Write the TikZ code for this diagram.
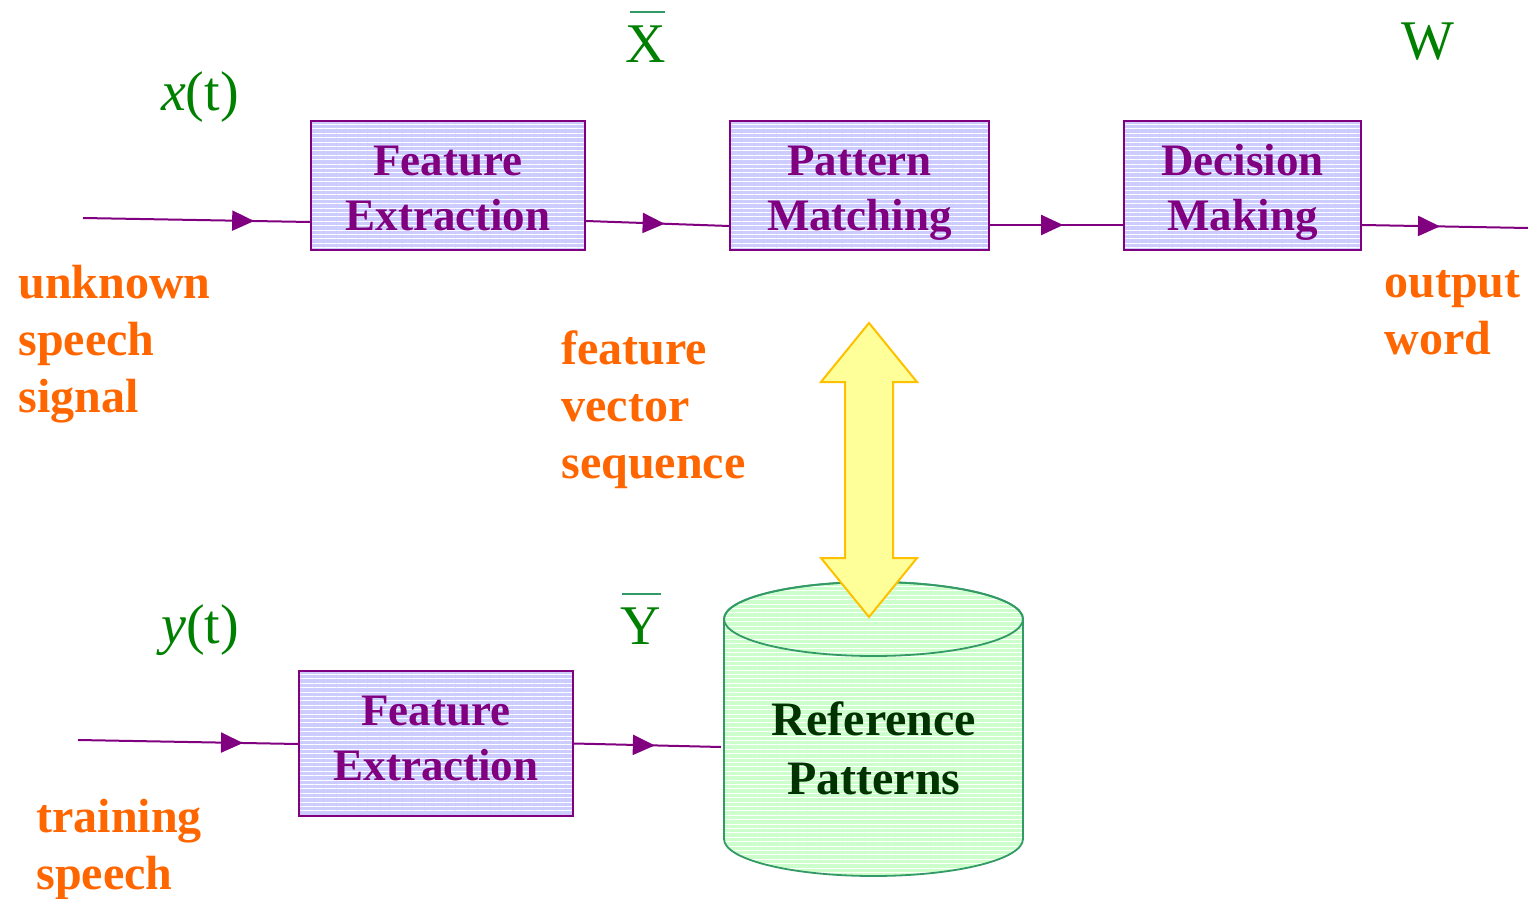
\documentclass[tikz,border=0pt]{standalone}
\usepackage{fontspec}
\setmainfont{Liberation Serif}
\usetikzlibrary{patterns.meta,decorations.markings,arrows.meta}
\definecolor{purp}{HTML}{800080}
\definecolor{boxfill}{HTML}{CCCCFF}
\definecolor{orng}{HTML}{FF6600}
\definecolor{grn}{HTML}{008000}
\definecolor{barc}{HTML}{339966}
\definecolor{cylfill}{HTML}{CCFFCC}
\definecolor{cylline}{HTML}{339966}
\definecolor{reftext}{HTML}{003300}
\definecolor{arrfill}{HTML}{FFFF99}
\definecolor{arrline}{HTML}{FFC000}
\begin{document}
\begin{tikzpicture}[x=0.5pt,y=-0.5pt,
  procbox/.style={draw=purp, line width=1pt, preaction={fill=boxfill},
    pattern={Lines[angle=0,distance=2.2pt,line width=0.5pt]}, pattern color=white,
    text=purp, font=\bfseries\fontsize{22.5}{27.5}\selectfont, align=center,
    minimum height=64.5pt, inner sep=0pt, text height=45.4pt, text depth=0pt},
  sig/.style={draw=purp, line width=1pt, postaction={decorate},
    decoration={markings, mark=at position #1 with {\arrow{Triangle[length=11pt,width=10pt]}}}},
  lbl/.style={text=orng, font=\bfseries\fontsize{24}{28.5}\selectfont, align=left, anchor=west, inner sep=0pt},
  sym/.style={text=grn, font=\fontsize{28}{32}\selectfont, inner sep=0pt},
  ovbar/.style={draw=barc, line width=1pt},
  cylbody/.style={draw=cylline, line width=0.9pt, preaction={fill=cylfill},
    pattern={Lines[angle=0,distance=2.2pt,line width=0.5pt]}, pattern color=white},
  dblarrow/.style={draw=arrline, fill=arrfill, line width=1pt, line join=miter}
]
\useasboundingbox (0,0) rectangle (1528,899);

% cylinder
\path[cylbody] (724,619) -- (724,839) arc[start angle=180, end angle=360, x radius=74.75pt, y radius=18.5pt]
  -- (1023,619) arc[start angle=0, end angle=180, x radius=74.75pt, y radius=18.5pt] -- cycle;
\draw[draw=cylline, line width=0.9pt] (873.5,619) ellipse[x radius=74.75pt, y radius=18.5pt];

% double arrow
\path[dblarrow] (869,323) -- (917,382) -- (893,382) -- (893,558) -- (917,558) -- (869,617)
  -- (821,558) -- (845,558) -- (845,382) -- (821,382) -- cycle;

% boxes
\node[procbox, minimum width=137pt] (fe1) at (448,185.5) {Feature\\Extraction};
\node[procbox, minimum width=129.5pt] (pm) at (859.5,185.5) {Pattern\\Matching};
\node[procbox, minimum width=118.5pt] (dm) at (1242.5,185.5) {Decision\\Making};
\node[procbox, minimum width=137pt, minimum height=72.5pt, text height=36.9pt] (fe2) at (436,743.5) {Feature\\Extraction};
\node[text=reftext, font=\bfseries\fontsize{24}{29.5}\selectfont, align=center, inner sep=0pt] (ref) at (874,748) {Reference\\Patterns};

% coordinates
\coordinate (in1) at (83,218);
\coordinate (out) at (1528,228);
\coordinate (in2) at (78,740);
\coordinate (refin) at (721,747);

% connectors
\draw[sig=0.754] (in1) -- ([yshift=-18.25pt]fe1.west);
\draw[sig=0.55] ([yshift=-17.75pt]fe1.east) -- ([yshift=-20.25pt]pm.west);
\draw[sig=0.55] ([yshift=-19.75pt]pm.east) -- ([yshift=-19.75pt]dm.west);
\draw[sig=0.47] ([yshift=-19.75pt]dm.east) -- (out);
\draw[sig=0.75] (in2) -- ([yshift=-0.25pt]fe2.west);
\draw[sig=0.55] (fe2.east) -- (refin);

% orange labels
\node[lbl] (l1) at (18,344.5) {unknown\\speech\\signal};
\node[lbl] (l2) at (561,410) {feature\\vector\\sequence};
\node[lbl] (l3) at (1384,313) {output\\word};
\node[lbl] (l4) at (36,849) {training\\speech};

% green symbols
\node[sym] (xt) at (200,97) {\textit{x}(t)};
\node[sym] (yt) at (200,630) {\textit{y}(t)};
\node[sym] (xb) at (646,44) {X};
\node[sym] (yb) at (641,626) {Y};
\node[sym] (w) at (1428,42) {W};
\draw[ovbar] ([xshift=2.5pt,yshift=6.5pt]xb.north west) -- ([xshift=-1pt,yshift=6.5pt]xb.north east);
\draw[ovbar] ([xshift=1pt,yshift=6.5pt]yb.north west) -- ([xshift=-0.5pt,yshift=6.5pt]yb.north east);
\end{tikzpicture}
\end{document}
